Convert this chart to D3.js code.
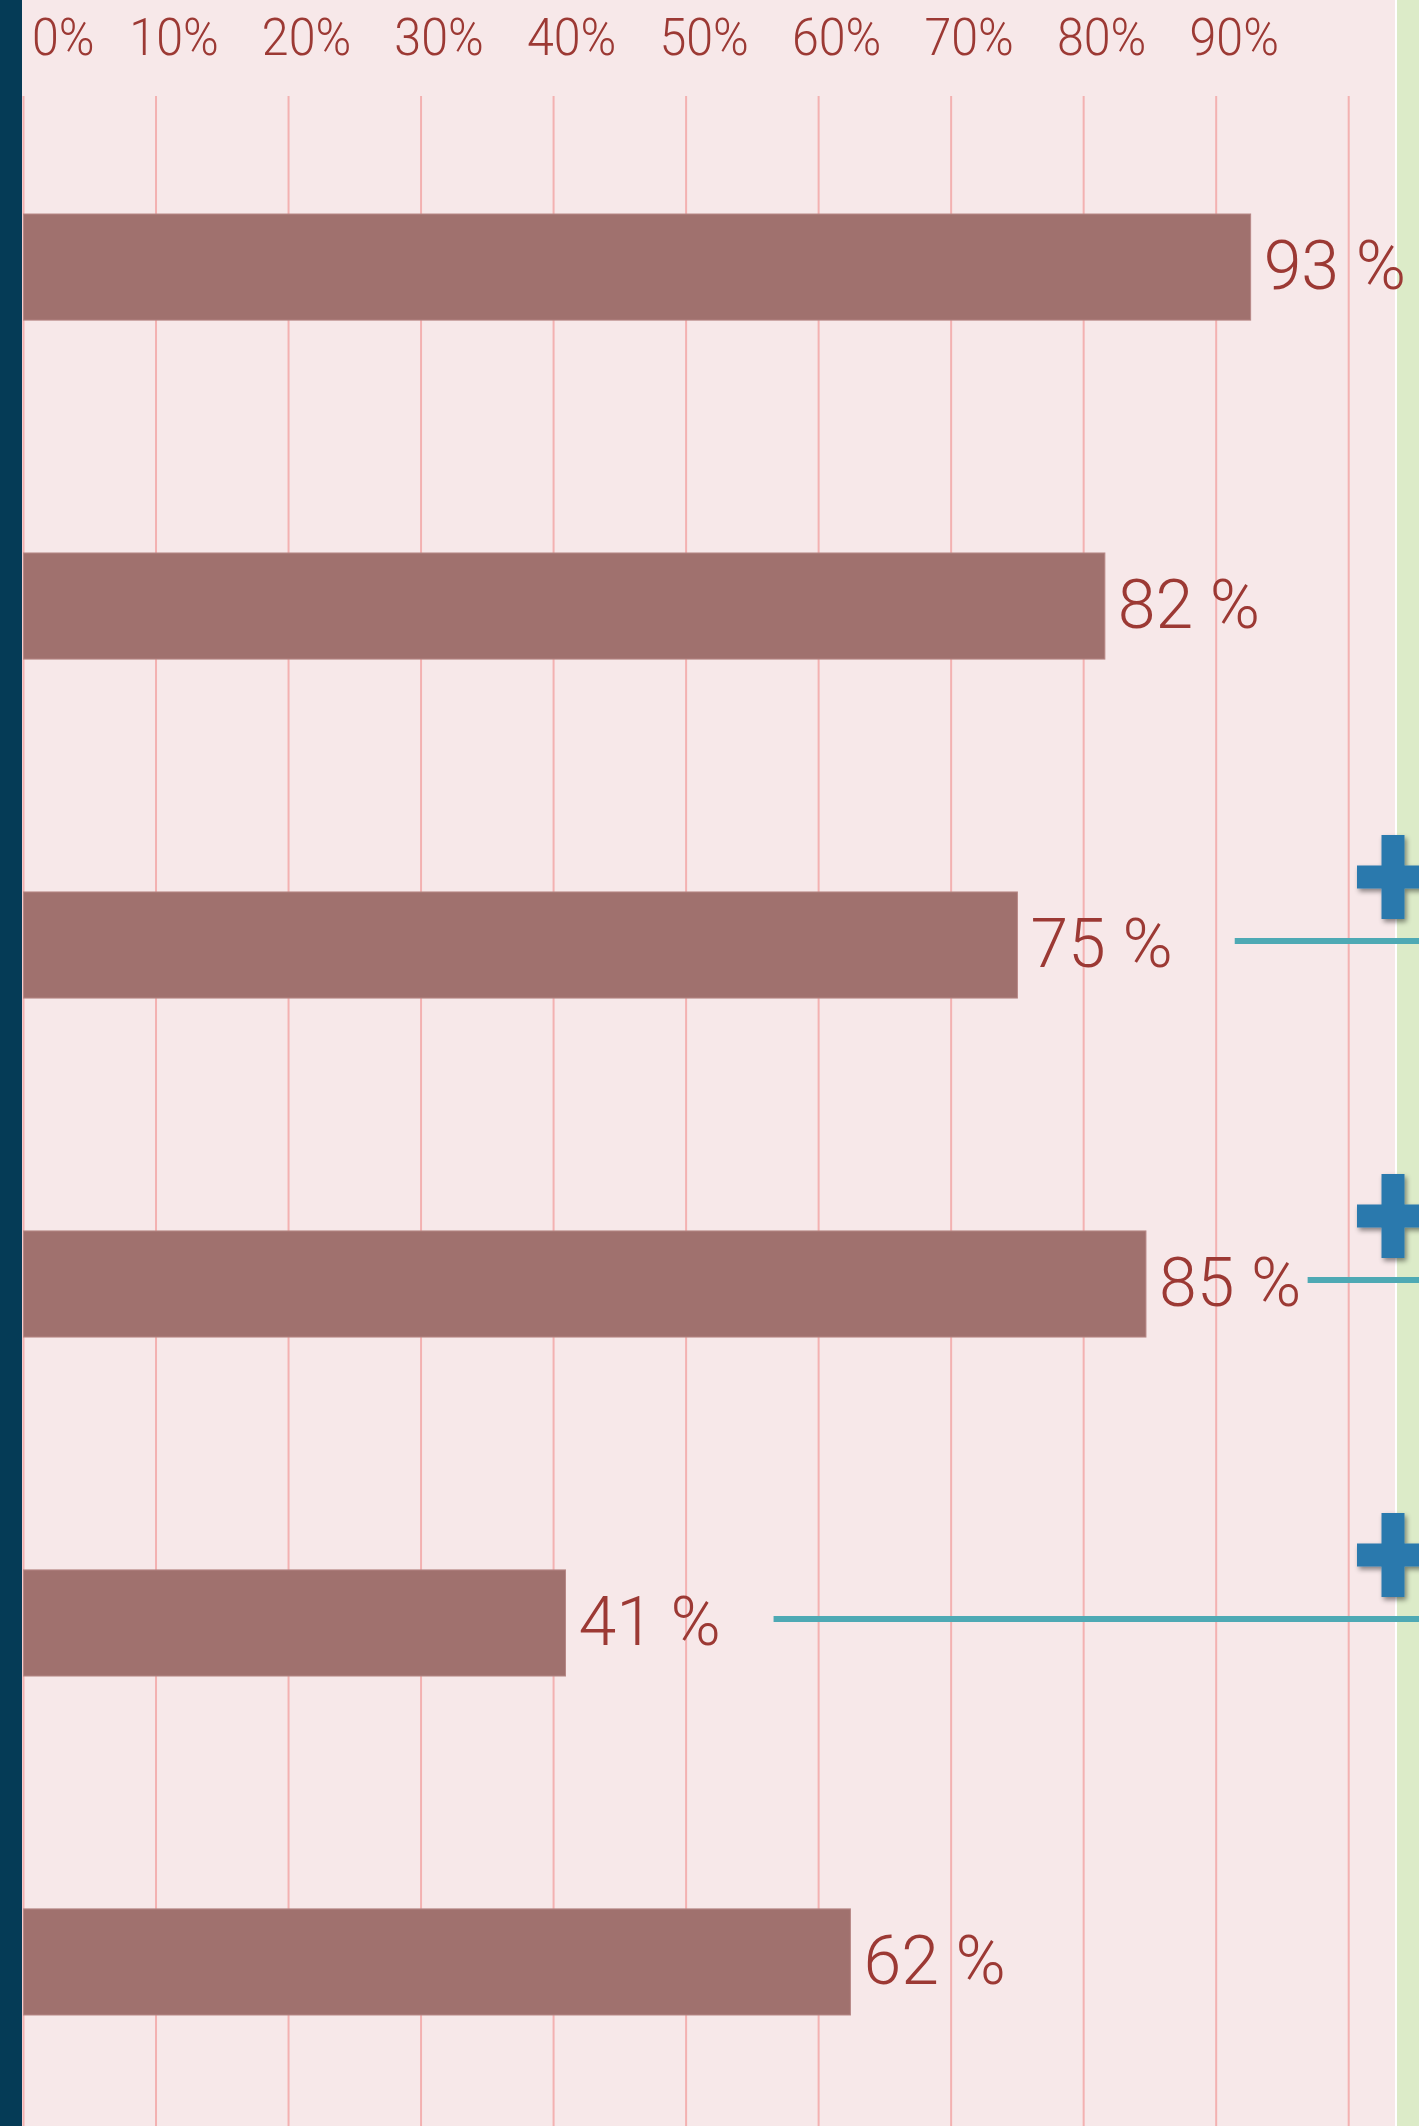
<!DOCTYPE html>
<html>
<head>
<meta charset="utf-8">
<script src="https://cdn.jsdelivr.net/npm/d3@7"></script>
<style>
  html, body { margin: 0; padding: 0; background: #f7e8e9; }
  svg { display: block; }
</style>
</head>
<body>
<svg id="chart"></svg>
<script>
// Horizontal percentage bars, ticks on top, a few rows flagged with a teal rule + blue plus.

const values = [92.6, 81.6, 75.0, 84.7, 40.9, 62.4];       // bar lengths, %
const valueLabels = ["93 %", "82 %", "75 %", "85 %", "41 %", "62 %"];
const ticks = [0, 10, 20, 30, 40, 50, 60, 70, 80, 90];
const tickLabels = ["0%", "10%", "20%", "30%", "40%", "50%", "60%", "70%", "80%", "90%"];
const gridValues = [0, 10, 20, 30, 40, 50, 60, 70, 80, 90, 100];
// teal rule starts (in % units) for flagged rows, null = no flag
const flagFrom = [null, null, 91.4, 96.9, 56.6, null];

(function () {
  const W = 1419, H = 2126;
  const STRIP = 22;          // dark left strip
  const GREEN_X = 1396;      // light green edge on the right

  const BG = "#f7e8e9";
  const BAR = "#a0716e";
  const GRID = "#f3b1b1";
  const TEXT = "#9c3934";
  const TEAL = "#4ea9b4";
  const PLUS = "#2a79ad";
  const FONT = "Roboto, 'Liberation Sans', sans-serif";
  const SQUEEZE = 0.93;      // narrower tick glyphs, like the original light face

  const svg = d3.select("#chart").attr("width", W).attr("height", H);

  const defs = svg.append("defs");
  const f = defs.append("filter").attr("id", "shadow")
    .attr("x", "-30%").attr("y", "-30%").attr("width", "160%").attr("height", "160%");
  f.append("feDropShadow").attr("dx", 2).attr("dy", 3).attr("stdDeviation", 2.5)
    .attr("flood-color", "#000").attr("flood-opacity", 0.45);

  svg.append("rect").attr("width", W).attr("height", H).attr("fill", BG);
  svg.append("rect").attr("x", GREEN_X).attr("width", W - GREEN_X).attr("height", H).attr("fill", "#dcebc8");
  svg.append("line").attr("x1", GREEN_X).attr("x2", GREEN_X).attr("y1", 0).attr("y2", H)
    .attr("stroke", "#fff").attr("stroke-width", 2);
  svg.append("rect").attr("width", STRIP).attr("height", H).attr("fill", "#053b56");

  const x = d3.scaleLinear().domain([0, 100]).range([23.5, 1348.7]);
  const y = d3.scaleBand().domain(d3.range(values.length))
    .range([214, 2015]).paddingInner(0.687).paddingOuter(0);

  // grid
  svg.append("g").selectAll("line").data(gridValues).enter()
    .append("line")
    .attr("x1", d => x(d)).attr("x2", d => x(d))
    .attr("y1", 96).attr("y2", H)
    .attr("stroke", GRID).attr("stroke-width", 2);

  // top tick labels
  const tg = svg.append("g")
    .attr("font-family", FONT)
    .attr("font-weight", 300)
    .attr("font-size", 52)
    .attr("fill", TEXT);
  ticks.forEach((t, i) => {
    const txt = tg.append("text").attr("text-anchor", "middle").text(tickLabels[i]);
    const w = txt.node().getComputedTextLength() * SQUEEZE;
    const cx = Math.max(x(t) + 18, STRIP + 10 + w / 2);
    txt.attr("transform", `translate(${cx},55) scale(${SQUEEZE},1)`);
  });

  // bars
  svg.append("g").selectAll("rect").data(values).enter()
    .append("rect")
    .attr("x", x(0))
    .attr("y", (d, i) => y(i))
    .attr("width", d => x(d) - x(0))
    .attr("height", y.bandwidth())
    .attr("fill", BAR)
    .attr("stroke", "#b78886")
    .attr("stroke-width", 1);

  // value labels
  svg.append("g").selectAll("text").data(values).enter()
    .append("text")
    .attr("x", d => x(d) + 13)
    .attr("y", (d, i) => y(i) + y.bandwidth() / 2 + 22)
    .attr("font-family", FONT)
    .attr("font-weight", 300)
    .attr("font-size", 68)
    .attr("fill", TEXT)
    .text((d, i) => valueLabels[i]);

  // flagged rows: teal rule running off the right edge + blue plus
  const flagged = flagFrom.map((v, i) => ({ v, i })).filter(d => d.v != null);
  flagged.forEach(d => {
    const cy = y(d.i) + y.bandwidth() / 2 - 4;
    svg.append("line")
      .attr("x1", x(d.v)).attr("x2", W)
      .attr("y1", cy).attr("y2", cy)
      .attr("stroke", TEAL).attr("stroke-width", 6);

    const px = 1393, py = cy - 64, arm = 42, t = 11.5;
    svg.append("path")
      .attr("d", `M ${px - t} ${py - arm} H ${px + t} V ${py - t} H ${px + arm} V ${py + t} H ${px + t}
                  V ${py + arm} H ${px - t} V ${py + t} H ${px - 36} V ${py - t} H ${px - t} Z`)
      .attr("fill", PLUS)
      .attr("filter", "url(#shadow)");
  });
})();
</script>
</body>
</html>
